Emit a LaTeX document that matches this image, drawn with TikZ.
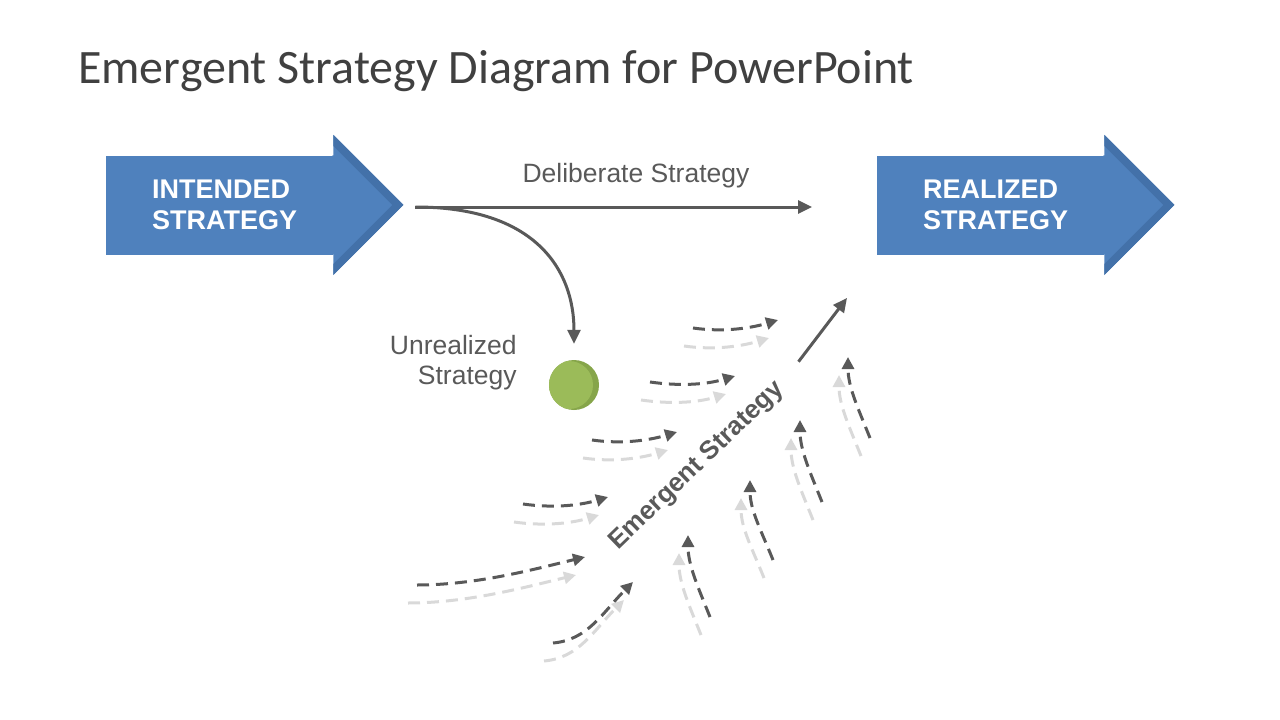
\documentclass[tikz,border=0pt]{standalone}
\usepackage{fontspec}
\setmainfont{Liberation Sans}
\newfontfamily\titlefont{Carlito}
\usetikzlibrary{arrows.meta, positioning}

\definecolor{stratblue}{HTML}{4F81BD}
\definecolor{stratbluedark}{HTML}{4371A9}
\definecolor{txtgray}{HTML}{595959}
\definecolor{titlegray}{HTML}{404040}
\definecolor{flowlight}{HTML}{D9D9D9}
\definecolor{balllight}{HTML}{9BBB59}
\definecolor{balldark}{HTML}{86A54A}

\begin{document}
\begin{tikzpicture}[
    x=1pt, y=-1pt,
    bodybox/.style={rectangle, fill=stratblue, minimum height=99pt, inner xsep=46pt, inner ysep=0pt, text width=135pt, align=left, text=white, font=\fontsize{27}{31}\selectfont\bfseries, anchor=west},
    lbl/.style={text=txtgray, font=\fontsize{26.5}{30}\selectfont, inner sep=0pt},
    mainline/.style={draw=txtgray, line width=3pt, -{Triangle[length=14pt,width=13pt]}},
    flowdark/.style={draw=txtgray, line width=3pt, dash pattern=on 12pt off 7pt, -{Triangle[length=12pt,width=12pt]}},
    flowpale/.style={flowdark, draw=flowlight}
]
\useasboundingbox (0,0) rectangle (1280,720);

\node[anchor=base west, text=titlegray, font=\titlefont\fontsize{48}{56}\selectfont, inner sep=0pt] (title) at (78,83) {Emergent Strategy Diagram for PowerPoint};

% the two big arrows: body node plus head
\node[bodybox] (intended) at (106,205) {INTENDED\\STRATEGY};
\node[bodybox] (realized) at (877,205) {REALIZED\\STRATEGY};
\foreach \n in {intended, realized}{
  \fill[stratblue] ([xshift=-1pt]\n.north east) -- (\n.north east) -- ++(0,-20.5) -- ++(70,70) -- ++(-70,70) -- ++(0,-20.5) -- ++(-1,0) -- cycle;
  \coordinate (\n-tip) at ([xshift=70pt]\n.east);
  \fill[stratbluedark] (\n-tip) -- ++(-70,-70) -- ++(0,11) -- ([xshift=-11pt]\n-tip) -- ++(-59,59) -- ++(0,11) -- cycle;
}

% deliberate and unrealized
\coordinate (split) at ([xshift=12pt,yshift=-2pt]intended-tip);
\node[lbl, anchor=base] (delib) at (636,182) {Deliberate Strategy};
\draw[mainline, shorten >=65pt] (split) -- (split -| realized.west);

\node[circle, fill=balldark, minimum size=50pt, inner sep=0pt,
      path picture={\fill[balllight] ([xshift=-5pt]path picture bounding box.center) circle (24pt);}] (ball) at (574,385) {};
\draw[mainline, shorten >=16pt] (split) .. controls +(120,0) and +(0,-90) .. (ball.north);
\node[lbl, align=right, left=32pt of ball, yshift=22pt] (unreal) {Unrealized\\Strategy};

% emergent strategy
\node[lbl, font=\fontsize{26}{30}\selectfont\bfseries, rotate=44] (emergent) at (697,466) {Emergent Strategy};
\coordinate (emergtip) at (847,298);
\draw[mainline, shorten <=30pt] (emergent.east) -- (emergtip);

\foreach \sx/\sy/\ex/\ey/\ax/\ay/\bx/\by in {
    693/328/778/320/28/4/-30/9,
    650/382/735/376/28/4/-30/9,
    592/440/677/432/28/4/-30/9,
    523/504/608/497/28/4/-30/9,
    417/585/585/557/60/0/-50/12,
    553/643/633/582/35/-3/-30/30,
    710/617/688/535/-12/-30/0/30,
    773/560/750/480/-12/-30/0/30,
    822/502/800/420/-12/-30/0/30,
    870/438/848/357/-12/-30/0/30}{
  \draw[flowpale, shift={(-9,18)}] (\sx,\sy) .. controls +(\ax,\ay) and +(\bx,\by) .. (\ex,\ey);
  \draw[flowdark] (\sx,\sy) .. controls +(\ax,\ay) and +(\bx,\by) .. (\ex,\ey);
}
\end{tikzpicture}
\end{document}
